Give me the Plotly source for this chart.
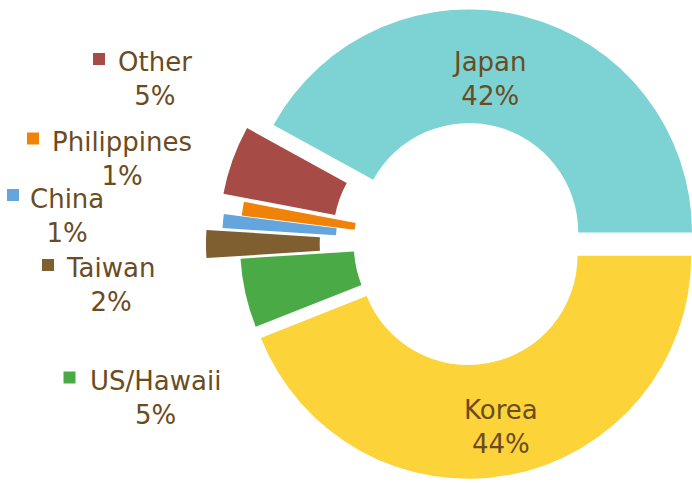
import math
import plotly.graph_objects as go

# ---- data (clockwise from 3 o'clock) ----
labels = ["Korea", "US/Hawaii", "Taiwan", "China", "Philippines", "Other", "Japan"]
values = [44, 5, 2, 1, 1, 5, 42]

# ---- style ----
colors = ["#FDD33A", "#4AAA46", "#7F5E2F", "#65A5DE", "#EF8207", "#A64B45", "#7DD3D3"]
pull_px = [12, 3, 37, 21, 3, 25, 12]          # explosion distance per slice (px)
TEXT_COLOR = "#6B4C22"
FONT = "DejaVu Sans"
FS = 26

W, H = 692, 483
CX, CY, R = 466, 244, 223
HOLE = 0.49

# label block centres (px) and legend-key centres (px)
label_pos = {
    "Japan": (489, 79), "Korea": (501, 427),
    "Other": (155, 79), "Philippines": (122, 159), "China": (67, 216),
    "Taiwan": (111, 285), "US/Hawaii": (155, 398),
}
key_pos = {
    "Other": (99, 59), "Philippines": (33, 138.5), "China": (13, 195),
    "Taiwan": (48, 265), "US/Hawaii": (69.5, 377.5),
}
KEY = 12

fig = go.Figure()
total = sum(values)
cum = 0
for i, (lab, v) in enumerate(zip(labels, values)):
    mid = 90 + 360 * (cum + v / 2) / total
    cum += v
    a = math.radians(mid)
    cx = CX + pull_px[i] * math.sin(a)
    cy = CY - pull_px[i] * math.cos(a)
    dom_x = [max(0, (cx - R) / W), min(1, (cx + R) / W)]
    dom_y = [max(0, 1 - (cy + R) / H), min(1, 1 - (cy - R) / H)]
    cols = [c if j == i else "rgba(0,0,0,0)" for j, c in enumerate(colors)]
    fig.add_trace(go.Pie(
        labels=labels, values=values, sort=False, direction="clockwise",
        rotation=90, hole=HOLE, textinfo="none",
        marker=dict(colors=cols, line=dict(width=0)),
        domain=dict(x=dom_x, y=dom_y), showlegend=False,
        hoverinfo="label+percent", name=lab,
    ))

annotations = []
shapes = []
for lab, v in zip(labels, values):
    x, y = label_pos[lab]
    annotations.append(dict(
        x=x / W, y=1 - y / H, xref="paper", yref="paper",
        text=f"{lab}<br>{round(100 * v / total)}%", showarrow=False,
        xanchor="center", yanchor="middle", align="center",
        font=dict(family=FONT, size=FS, color=TEXT_COLOR),
    ))
    if lab in key_pos:
        kx, ky = key_pos[lab]
        shapes.append(dict(
            type="rect", xref="paper", yref="paper",
            x0=(kx - KEY / 2) / W, x1=(kx + KEY / 2) / W,
            y0=1 - (ky + KEY / 2) / H, y1=1 - (ky - KEY / 2) / H,
            fillcolor=colors[labels.index(lab)], line=dict(width=0),
        ))

fig.update_layout(
    width=W, height=H, autosize=False,
    margin=dict(l=0, r=0, t=0, b=0),
    paper_bgcolor="white", plot_bgcolor="white",
    annotations=annotations, shapes=shapes,
)
fig.write_html(
    "out.html",
    config={"displayModeBar": False},
    post_script="document.body.style.margin='0';document.body.style.overflow='hidden';",
)
